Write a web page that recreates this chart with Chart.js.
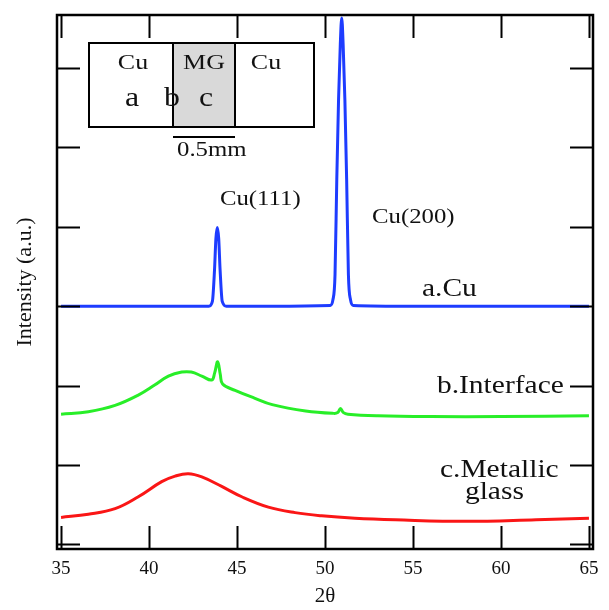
<!DOCTYPE html>
<html><head><meta charset="utf-8">
<script src="https://cdn.jsdelivr.net/npm/chart.js@4/dist/chart.umd.min.js"></script>
<style>html,body{margin:0;padding:0;background:#fff}</style>
</head><body>
<canvas id="c" width="609" height="610"></canvas>
<script>
// ---- data ----
const xTicks = [35, 40, 45, 50, 55, 60, 65];
const yTicks = [0, 1, 2, 3, 4, 5, 6];

// a. Cu (blue)
const cuX = [35, 40, 43.4, 43.6, 43.72, 43.8, 43.88, 43.96, 44.04, 44.16, 44.4, 47, 50.3, 50.45, 50.57, 50.67, 50.77, 50.87, 50.95, 51.03, 51.13, 51.23, 51.33, 51.45, 51.6, 55, 60, 65];
const cuY = [3.0, 3.0, 3.0, 3.06, 3.45, 3.85, 3.99, 3.85, 3.45, 3.06, 3.0, 3.0, 3.01, 3.08, 3.4, 4.6, 5.6, 6.3, 6.63, 6.3, 5.6, 4.6, 3.4, 3.08, 3.01, 3.0, 3.0, 3.0];

// b. Interface (green)
const ifX = [35, 36.55, 38.07, 39.39, 40.34, 41.1, 41.86, 42.4, 43.0, 43.56, 43.73, 43.9, 44.05, 44.18, 44.89, 46.02, 47.0, 48.9, 50.5, 50.72, 50.88, 51.05, 51.3, 53, 56, 60, 65];
const ifY = [1.64, 1.67, 1.75, 1.88, 2.01, 2.12, 2.17, 2.17, 2.12, 2.07, 2.16, 2.30, 2.14, 2.02, 1.94, 1.84, 1.76, 1.68, 1.65, 1.66, 1.71, 1.66, 1.64, 1.62, 1.61, 1.61, 1.62];

// c. Metallic glass (red)
const mgX = [35, 36.55, 38.07, 39.39, 40.72, 41.48, 42.23, 43.0, 44.13, 45.27, 46.78, 48.3, 49.81, 51.7, 54, 58, 62, 65];
const mgY = [0.34, 0.38, 0.45, 0.60, 0.79, 0.86, 0.89, 0.85, 0.73, 0.60, 0.47, 0.40, 0.36, 0.33, 0.31, 0.29, 0.31, 0.33];

const seriesNames = ['a.Cu', 'b.Interface', 'c.Metallic glass'];
const xTitle = '2θ';
const yTitle = 'Intensity (a.u.)';

// ---- annotations (text, anchor in data units) ----
const FONT = '"Liberation Serif", "Times New Roman", serif';
const annotations = [
  {text: 'Cu(111)', x: 44.03, y: 4.27, size: 21},
  {text: 'Cu(200)', x: 52.67, y: 4.05, size: 21},
  {text: 'a.Cu', x: 55.51, y: 3.13, size: 25},
  {text: 'b.Interface', x: 56.36, y: 1.91, size: 25},
  {text: 'c.Metallic', x: 56.53, y: 0.85, size: 25},
  {text: 'glass', x: 57.95, y: 0.57, size: 25}
];
const STRETCH = 1.18;

function pts(xs, ys) { return xs.map((x, i) => ({x: x, y: ys[i]})); }

function stretchedText(ctx, t, x, y, size, align) {
  ctx.save();
  ctx.font = size + 'px ' + FONT;
  ctx.fillStyle = '#111';
  ctx.textAlign = align || 'left';
  ctx.textBaseline = 'alphabetic';
  ctx.translate(x, y);
  ctx.scale(STRETCH, 1);
  ctx.fillText(t, 0, 0);
  ctx.restore();
}

const framePlugin = {
  id: 'frame',
  afterDatasetsDraw(chart) {
    const {ctx, chartArea: a, scales: {x, y}} = chart;
    ctx.save();
    ctx.strokeStyle = '#000';
    ctx.lineWidth = 2;
    const L = 23;
    xTicks.forEach(v => {
      const px = Math.round(x.getPixelForValue(v)) + 0.5;
      ctx.beginPath();
      ctx.moveTo(px, a.bottom); ctx.lineTo(px, a.bottom - L);
      ctx.moveTo(px, a.top); ctx.lineTo(px, a.top + L);
      ctx.stroke();
    });
    yTicks.forEach(v => {
      const py = Math.round(y.getPixelForValue(v)) + 0.5;
      ctx.beginPath();
      ctx.moveTo(a.left, py); ctx.lineTo(a.left + L, py);
      ctx.moveTo(a.right, py); ctx.lineTo(a.right - L, py);
      ctx.stroke();
    });
    ctx.lineWidth = 2.5;
    ctx.strokeRect(a.left, a.top, a.right - a.left, a.bottom - a.top);
    ctx.restore();
  },
  afterDraw(chart) {
    const {ctx, scales: {x, y}} = chart;
    annotations.forEach(an => {
      stretchedText(ctx, an.text, x.getPixelForValue(an.x), y.getPixelForValue(an.y), an.size, 'left');
    });
    // inset schematic of the sample
    ctx.save();
    ctx.fillStyle = '#d9d9d9';
    ctx.fillRect(173, 43, 62, 84);
    ctx.strokeStyle = '#000';
    ctx.lineWidth = 2;
    ctx.strokeRect(89, 43, 225, 84);
    ctx.beginPath();
    ctx.moveTo(173, 43); ctx.lineTo(173, 127);
    ctx.moveTo(235, 43); ctx.lineTo(235, 127);
    ctx.moveTo(173, 137); ctx.lineTo(235, 137);
    ctx.stroke();
    ctx.restore();
    stretchedText(ctx, 'Cu', 133, 69, 22, 'center');
    stretchedText(ctx, 'MG', 204, 69, 22, 'center');
    stretchedText(ctx, 'Cu', 266, 69, 22, 'center');
    stretchedText(ctx, 'a', 132, 106, 27, 'center');
    stretchedText(ctx, 'b', 172, 106, 27, 'center');
    stretchedText(ctx, 'c', 206, 106, 27, 'center');
    stretchedText(ctx, '0.5mm', 177, 156, 21, 'left');
  }
};

const common = {borderWidth: 3, pointRadius: 0, fill: false};
new Chart(document.getElementById('c'), {
  type: 'line',
  data: {
    datasets: [
      Object.assign({label: seriesNames[0], data: pts(cuX, cuY), borderColor: 'rgb(30,60,255)', cubicInterpolationMode: 'monotone'}, common),
      Object.assign({label: seriesNames[1], data: pts(ifX, ifY), borderColor: 'rgb(40,238,40)', tension: 0.4}, common),
      Object.assign({label: seriesNames[2], data: pts(mgX, mgY), borderColor: 'rgb(250,22,22)', tension: 0.4}, common)
    ]
  },
  options: {
    responsive: false,
    animation: false,
    layout: {padding: {top: 15, right: 16, left: 0, bottom: 0}},
    plugins: {legend: {display: false}, tooltip: {enabled: false}},
    scales: {
      x: {
        type: 'linear', min: 34.77, max: 65.23,
        afterBuildTicks: s => { s.ticks = xTicks.map(v => ({value: v})); },
        afterFit: s => { s.height = 61; },
        grid: {display: false, drawTicks: false},
        border: {display: false},
        ticks: {font: {family: FONT, size: 19}, color: '#111', padding: 9, maxRotation: 0, autoSkip: false,
                callback: v => String(v)},
        title: {display: true, text: xTitle, font: {family: FONT, size: 21}, color: '#111', padding: {top: 0, bottom: 1}}
      },
      y: {
        type: 'linear', min: -0.058, max: 6.667,
        afterBuildTicks: s => { s.ticks = yTicks.map(v => ({value: v})); },
        afterFit: s => { s.width = 57; },
        grid: {display: false, drawTicks: false},
        border: {display: false},
        ticks: {display: false},
        title: {display: true, text: yTitle, font: {family: FONT, size: 22}, color: '#111', padding: {top: 12, bottom: 0}}
      }
    }
  },
  plugins: [framePlugin]
});
</script>
</body></html>
